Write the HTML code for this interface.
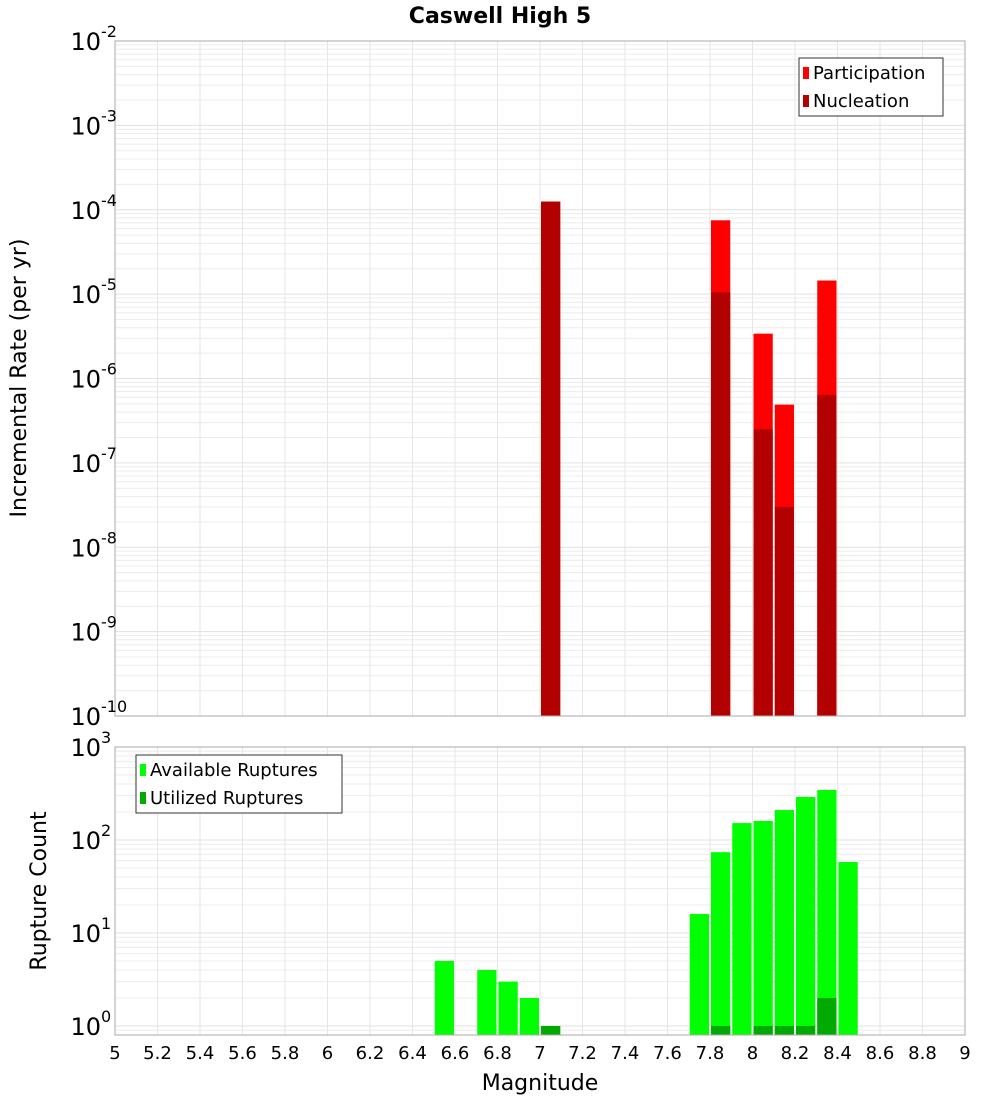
<!DOCTYPE html>
<html><head><meta charset="utf-8"><style>
body{margin:0;background:#fff}
svg{display:block;font-family:"DejaVu Sans","Liberation Sans",sans-serif}
</style></head><body>
<svg id="c" width="1000" height="1100" xmlns="http://www.w3.org/2000/svg">
<text x="500" y="23" text-anchor="middle" font-size="22" font-weight="bold">Caswell High 5</text>
<text transform="translate(26,378) rotate(-90)" text-anchor="middle" font-size="22">Incremental Rate (per yr)</text>
<text transform="translate(46,891) rotate(-90)" text-anchor="middle" font-size="22">Rupture Count</text>
<text x="540" y="1090" text-anchor="middle" font-size="22">Magnitude</text>
<g id="gtop"></g>
<g id="gbot"></g>
<g id="gxt"></g>
</svg>
<script>
const rateMags=[7.05,7.85,8.05,8.15,8.35];
const participation=[1.25e-4,7.5e-5,3.4e-6,4.9e-7,1.45e-5];
const nucleation=[1.25e-4,1.05e-5,2.5e-7,3.0e-8,6.4e-7];
const countMags=[6.55,6.75,6.85,6.95,7.05,7.75,7.85,7.95,8.05,8.15,8.25,8.35,8.45];
const available=[5,4,3,2,1,16,74,152,160,210,290,345,58];
const utilized=[0,0,0,0,1,0,1,0,1,1,1,2,0];
const xTicks=["5","5.2","5.4","5.6","5.8","6","6.2","6.4","6.6","6.8","7","7.2","7.4","7.6","7.8","8","8.2","8.4","8.6","8.8","9"];

const NS="http://www.w3.org/2000/svg";
function mk(p,t,a){const e=document.createElementNS(NS,t);for(const k in a)e.setAttribute(k,a[k]);p.appendChild(e);return e;}
const X0=115,X1=965;
const xs=m=>X0+(m-5)/4*(X1-X0);
const PT={top:41,bot:716,lmin:-10,lmax:-2};
const PB={top:747,bot:1035,lmin:Math.log10(0.8),lmax:3};
const yT=v=>PT.bot-(Math.log10(v)-PT.lmin)/(PT.lmax-PT.lmin)*(PT.bot-PT.top);
const yB=v=>PB.bot-(Math.log10(v)-PB.lmin)/(PB.lmax-PB.lmin)*(PB.bot-PB.top);

function grid(g,P,yf,d0,d1){
  for(let d=d0;d<=d1;d++)for(let k=1;k<10;k++){
    const v=k*Math.pow(10,d);const yy=yf(v);
    if(yy<P.top-0.5||yy>P.bot+0.5)continue;
    const l=mk(g,'line',{x1:X0,x2:X1,y1:yy,y2:yy,stroke:k==1?'#e0e0e0':'#ececec','stroke-width':1});
    
    
  }
  xTicks.forEach(t=>{const xx=xs(+t);
    const l=mk(g,'line',{x1:xx,x2:xx,y1:P.top,y2:P.bot,stroke:'#e6e6e6'});
    
    
  });
}
function ylabels(g,yf,d0,d1,P){
  for(let d=d0;d<=d1;d++){const yy=yf(Math.pow(10,d));
    if(yy<P.top-1||yy>P.bot+1)continue;
    const t=mk(g,'text',{x:101,y:yy+9,'text-anchor':'end','font-size':24});t.textContent='10';
    
    
    const s=mk(g,'text',{x:101,y:yy-4,'font-size':16});s.textContent=String(d);
    
    
  }
}
function bar(g,m,v,yf,P,col,name){
  const x1=xs(m-0.05)+1,x2=xs(m+0.05)-1,yy=yf(v);
  const r=mk(g,'rect',{x:x1,y:yy,width:x2-x1,height:P.bot-yy,fill:col});
  
  
}
function frame(g,P){const r=mk(g,'rect',{x:X0,y:P.top,width:X1-X0,height:P.bot-P.top,fill:'none',stroke:'#aaa'});
  
  }
function legend(g,lx,ly,w,items){
  const r=mk(g,'rect',{x:lx,y:ly,width:w,height:58,fill:'#fff',stroke:'#333'});
  
  
  items.forEach((it,i)=>{
    const s=mk(g,'rect',{x:lx+4,y:ly+9+i*28,width:6,height:12,fill:it[1]});
    
    
    const t=mk(g,'text',{x:lx+14,y:ly+21+i*28,'font-size':18});t.textContent=it[0];
    
    
  });
}
const gTop=document.getElementById('gtop'),gBot=document.getElementById('gbot'),gXt=document.getElementById('gxt');
grid(gTop,PT,yT,-10,-3);
rateMags.forEach((m,i)=>{bar(gTop,m,participation[i],yT,PT,'#ff0000','participation-bar');bar(gTop,m,nucleation[i],yT,PT,'#b30000','nucleation-bar');});
frame(gTop,PT);ylabels(gTop,yT,-10,-2,PT);
legend(gTop,799,58,144,[['Participation','#ff0000'],['Nucleation','#b30000']]);

grid(gBot,PB,yB,-1,2);
countMags.forEach((m,i)=>{bar(gBot,m,available[i],yB,PB,'#00ff00','available-bar');if(utilized[i]>0)bar(gBot,m,utilized[i],yB,PB,'#00aa00','utilized-bar');});
frame(gBot,PB);ylabels(gBot,yB,0,3,PB);
legend(gBot,136,755,206,[['Available Ruptures','#00ff00'],['Utilized Ruptures','#00aa00']]);

xTicks.forEach(t=>{const e=mk(gXt,'text',{x:xs(+t),y:1059,'text-anchor':'middle','font-size':18});e.textContent=t;
  
  });
</script>
</body></html>
